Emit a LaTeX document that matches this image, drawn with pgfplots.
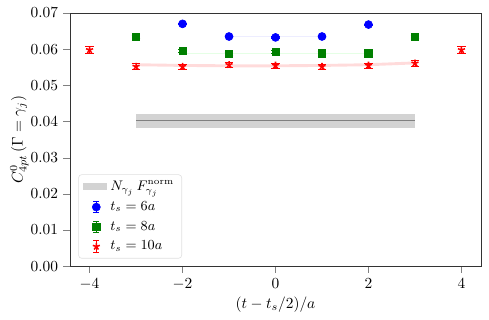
\documentclass[border=0pt]{standalone}
\usepackage{pgfplots}
\pgfplotsset{compat=1.18}
\definecolor{mgreen}{RGB}{0,128,0}
\definecolor{bandgray}{RGB}{211,211,211}
\begin{document}
\begin{tikzpicture}
\pgfplotsset{
  ebleg/.style={legend image code/.code={
    \draw[line width=0.6pt,solid] (0.3cm,-0.13cm) -- (0.3cm,0.13cm) (0.23cm,-0.13cm) -- (0.37cm,-0.13cm) (0.23cm,0.13cm) -- (0.37cm,0.13cm);
    \draw plot coordinates {(0.3cm,0cm)};}},
}
\begin{axis}[
  scale only axis,
  width=267pt, height=164.5pt,
  xmin=-4.42, xmax=4.42,
  ymin=0, ymax=0.07,
  xtick={-4,-2,0,2,4},
  ytick={0,0.01,0.02,0.03,0.04,0.05,0.06,0.07},
  yticklabel style={/pgf/number format/.cd,fixed,fixed zerofill,precision=2},
  scaled y ticks=false,
  tick align=outside,
  xtick pos=bottom, ytick pos=left,
  axis line style={black!80},
  xlabel={$(t-t_s/2)/a$},
  ylabel={$C^0_{4pt}\,(\Gamma=\gamma_j)$},
  xlabel style={yshift=2pt},
  ylabel style={yshift=-5.5pt},
  legend style={at={(0.02,0.03)}, anchor=south west, draw=black!12, rounded corners=2pt, font=\small, row sep=1.5pt, inner xsep=3pt, inner ysep=2pt},
  legend cell align=left,
]
\coordinate (sw) at (rel axis cs:0,0);
\coordinate (ne) at (rel axis cs:1,1);
% gray band
\addplot[draw=none, fill=bandgray, legend image code/.code={\fill[bandgray, sharp corners] (0cm,-0.08cm) rectangle (0.55cm,0.08cm);}] coordinates {(-3,0.0382) (3,0.0382) (3,0.0422) (-3,0.0422)} -- cycle;
\addlegendentry{$N_{\gamma_j}\,F^{\mathrm{norm}}_{\gamma_j}$}
\addplot[gray, line width=1pt, forget plot] coordinates {(-3,0.04025) (3,0.04025)};
% fit bands
\addplot[draw=none, fill=blue!7, forget plot] coordinates {(-1,0.06335) (1,0.06335) (1,0.06365) (-1,0.06365)} -- cycle;
\addplot[draw=none, fill=green!10, forget plot] coordinates {(-2,0.05870) (2,0.05870) (2,0.05900) (-2,0.05900)} -- cycle;
\addplot[draw=none, fill=red!14, forget plot] coordinates {(-3,0.0553) (-2,0.0551) (-1,0.0550) (0,0.0550) (1,0.0551) (2,0.0553) (3,0.0558) (3,0.0566) (2,0.0561) (1,0.0559) (0,0.0558) (-1,0.0558) (-2,0.0559) (-3,0.0561)} -- cycle;
% data
\addplot[only marks, blue, mark=*, mark size=2.6pt, ebleg,
  error bars/.cd, y dir=both, y explicit, error bar style={line width=0.6pt}, error mark options={rotate=90, mark size=2.8pt}]
  coordinates {
  (-2,0.0670) +- (0,0.0002)
  (-1,0.0635) +- (0,0.0002)
  (0,0.06325) +- (0,0.0002)
  (1,0.0635) +- (0,0.0002)
  (2,0.0668) +- (0,0.0002)
  };
\addlegendentry{$t_s=6a$}
\addplot[only marks, mgreen, mark=square*, mark size=2.4pt, ebleg,
  error bars/.cd, y dir=both, y explicit, error bar style={line width=0.6pt}, error mark options={rotate=90, mark size=2.8pt}]
  coordinates {
  (-3,0.0634) +- (0,0.0004)
  (-2,0.0596) +- (0,0.0004)
  (-1,0.0587) +- (0,0.0004)
  (0,0.0592) +- (0,0.0004)
  (1,0.0589) +- (0,0.0004)
  (2,0.0589) +- (0,0.0004)
  (3,0.0634) +- (0,0.0004)
  };
\addlegendentry{$t_s=8a$}
\addplot[only marks, red, mark=star, mark options={fill=red, line width=1pt}, mark size=2.4pt, ebleg,
  error bars/.cd, y dir=both, y explicit, error bar style={line width=0.6pt}, error mark options={rotate=90, mark size=2.8pt}]
  coordinates {
  (-4,0.0598) +- (0,0.0009)
  (-3,0.0552) +- (0,0.0008)
  (-2,0.0552) +- (0,0.0007)
  (-1,0.0557) +- (0,0.0007)
  (0,0.0555) +- (0,0.0007)
  (1,0.0552) +- (0,0.0007)
  (2,0.0555) +- (0,0.0007)
  (3,0.0561) +- (0,0.0008)
  (4,0.0598) +- (0,0.0009)
  };
\addlegendentry{$t_s=10a$}
\end{axis}
\pgfresetboundingbox
\path[use as bounding box] ([shift={(-45.5pt,-34.45pt)}]sw) rectangle ([shift={(5.2pt,8.45pt)}]ne);
\end{tikzpicture}
\end{document}
